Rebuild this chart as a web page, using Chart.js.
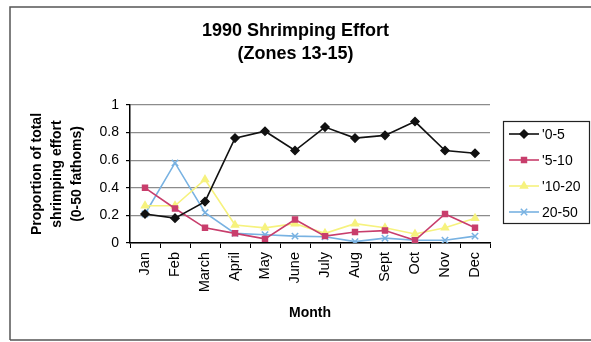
<!DOCTYPE html>
<html>
<head>
<meta charset="utf-8">
<script src="https://cdn.jsdelivr.net/npm/chart.js@4/dist/chart.umd.min.js"></script>
<style>
  html, body { margin: 0; padding: 0; background: #fff; }
  #wrap { width: 591px; height: 342px; position: relative; }
</style>
</head>
<body>
<div id="wrap"><canvas id="c" width="591" height="342"></canvas></div>
<script>
// Monthly share of shrimping effort by depth band (fathoms), 1990, zones 13-15
const months = ['Jan', 'Feb', 'March', 'April', 'May', 'June', 'July', 'Aug', 'Sept', 'Oct', 'Nov', 'Dec'];
const depth0to5   = [0.21, 0.18, 0.30, 0.76, 0.81, 0.67, 0.84, 0.76, 0.78, 0.88, 0.67, 0.65];
const depth5to10  = [0.40, 0.25, 0.11, 0.07, 0.03, 0.17, 0.05, 0.08, 0.09, 0.02, 0.21, 0.11];
const depth10to20 = [0.27, 0.27, 0.46, 0.13, 0.11, 0.14, 0.07, 0.14, 0.11, 0.065, 0.11, 0.18];
const depth20to50 = [0.21, 0.58, 0.22, 0.07, 0.06, 0.05, 0.045, 0.01, 0.035, 0.02, 0.02, 0.05];
const seriesLabels = ["'0-5", "'5-10", "'10-20", "20-50"];
const yTicks = [0, 0.2, 0.4, 0.6, 0.8, 1];

const FONT = "'Liberation Sans', Arial, Helvetica, sans-serif";

const styles = [
  { color: '#111111', fill: '#111111', pointStyle: 'rectRot', radius: 4 },
  { color: '#c83e6c', fill: '#c83e6c', pointStyle: 'rect', radius: 3.5 },
  { color: '#f6f27e', fill: '#f6f27e', pointStyle: 'triangle', radius: 4 },
  { color: '#78b2e2', fill: '#78b2e2', pointStyle: 'crossRot', radius: 4.5 }
];
const seriesData = [depth0to5, depth5to10, depth10to20, depth20to50];

const datasets = seriesData.map((d, i) => ({
  label: seriesLabels[i],
  data: d,
  borderColor: styles[i].color,
  backgroundColor: styles[i].fill,
  pointBackgroundColor: styles[i].fill,
  pointBorderColor: styles[i].color,
  pointStyle: styles[i].pointStyle,
  pointRadius: styles[i].radius,
  pointBorderWidth: 1.5,
  borderWidth: 1.6,
  tension: 0,
  fill: false
}));

// Outer frame around the whole figure
const framePlugin = {
  id: 'frame',
  afterDraw(chart) {
    const ctx = chart.ctx;
    ctx.save();
    ctx.strokeStyle = '#555';
    ctx.lineWidth = 1.5;
    ctx.beginPath();
    ctx.moveTo(10, 340);
    ctx.lineTo(10, 7);
    ctx.lineTo(591, 7);
    ctx.moveTo(10, 340);
    ctx.lineTo(591, 340);
    ctx.stroke();
    ctx.restore();
  }
};

// Boxed legend with line + marker samples, placed in the reserved right band
const boxLegendPlugin = {
  id: 'boxLegend',
  afterDraw(chart) {
    const ctx = chart.ctx;
    const band = chart.scales.legendBand;
    const left = band.left + 13;
    const right = 589;
    const top = 121;
    const bottom = 223;
    ctx.save();
    ctx.strokeStyle = '#222';
    ctx.lineWidth = 1.2;
    ctx.strokeRect(left + 0.5, top + 0.5, right - left, bottom - top);
    chart.data.datasets.forEach((ds, i) => {
      const y = 134 + i * 26;
      ctx.strokeStyle = ds.borderColor;
      ctx.lineWidth = ds.borderWidth;
      ctx.beginPath();
      ctx.moveTo(left + 6, y);
      ctx.lineTo(left + 36, y);
      ctx.stroke();
      ctx.fillStyle = ds.pointBackgroundColor;
      ctx.strokeStyle = ds.pointBorderColor;
      ctx.lineWidth = ds.pointBorderWidth;
      Chart.helpers.drawPoint(ctx, {
        pointStyle: ds.pointStyle,
        radius: ds.pointRadius,
        rotation: 0,
        borderWidth: ds.pointBorderWidth
      }, left + 21, y);
      ctx.fillStyle = '#000';
      ctx.font = '14px ' + FONT;
      ctx.textBaseline = 'middle';
      ctx.textAlign = 'left';
      ctx.fillText(ds.label, left + 39, y + 1);
    });
    ctx.restore();
  }
};

new Chart(document.getElementById('c'), {
  type: 'line',
  data: { labels: months, datasets: datasets },
  options: {
    responsive: false,
    animation: false,
    devicePixelRatio: 1,
    layout: { padding: 0 },
    plugins: {
      legend: { display: false },
      tooltip: { enabled: false },
      title: {
        display: true,
        text: ['1990 Shrimping Effort', '(Zones 13-15)'],
        color: '#000',
        font: { family: FONT, size: 18, weight: 'bold', lineHeight: '23px' },
        padding: { top: 20, bottom: 39 }
      }
    },
    scales: {
      x: {
        type: 'category',
        offset: true,
        grid: {
          display: true,
          offset: true,
          drawOnChartArea: false,
          drawTicks: true,
          tickLength: 5,
          color: '#000',
          lineWidth: 1
        },
        border: { display: true, color: '#000', width: 1.5 },
        ticks: {
          autoSkip: false,
          minRotation: 90,
          maxRotation: 90,
          padding: 4,
          color: '#000',
          font: { family: FONT, size: 14.5 }
        },
        title: {
          display: true,
          text: 'Month',
          color: '#000',
          font: { family: FONT, size: 14, weight: 'bold' },
          padding: { top: 4, bottom: 20 }
        },
        afterFit(scale) { scale.height = 99; }
      },
      y: {
        type: 'linear',
        position: 'left',
        min: 0,
        max: 1,
        afterBuildTicks(scale) { scale.ticks = yTicks.map(v => ({ value: v })); },
        grid: {
          color: '#8c8c8c',
          lineWidth: 1.2,
          tickLength: 4,
          tickColor: '#000'
        },
        border: { display: true, color: '#000', width: 1.5 },
        ticks: {
          padding: 7,
          color: '#000',
          font: { family: FONT, size: 14 },
          callback: v => String(v)
        },
        title: {
          display: true,
          text: ['Proportion of total', 'shrimping effort', '(0-50 fathoms)'],
          color: '#000',
          font: { family: FONT, size: 14, weight: 'bold', lineHeight: '20px' },
          padding: { top: 27, bottom: 0 }
        },
        afterFit(scale) { scale.width = 130; }
      },
      legendBand: {
        type: 'linear',
        position: 'right',
        display: true,
        grid: { display: false, drawTicks: false },
        border: { display: false },
        ticks: { display: false },
        afterFit(scale) { scale.width = 101; }
      }
    }
  },
  plugins: [framePlugin, boxLegendPlugin]
});
</script>
</body>
</html>
